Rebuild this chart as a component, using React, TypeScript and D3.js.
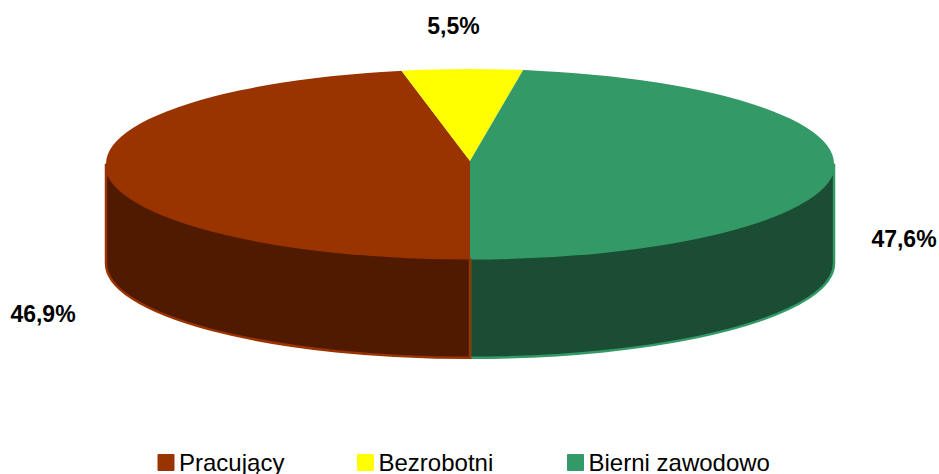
import * as d3 from 'd3';

const categories = ['Pracujący', 'Bezrobotni', 'Bierni zawodowo'];
const values = [46.9, 5.5, 47.6];
const valueLabels = ['46,9%', '5,5%', '47,6%'];
const topColors = ['#993300', '#ffff00', '#339966'];
const wallColors = ['#4f1a00', '#808000', '#1a4d33'];

const width = 939;
const height = 474;
const cx = 470;
const cy = 163.7;
const apexY = 161; // slices meet a bit above the ellipse centre in the reference
const rx = 364;
const ry = 94.6;
const depth = 99.5;

const labelPos = [
    { x: 43, y: 322 },
    { x: 453.5, y: 34 },
    { x: 904, y: 247 },
];
const legendX = [157.5, 357, 567];

// slices start at the bottom of the pie and run clockwise
const pie = d3.pie<number>().sort(null).startAngle(Math.PI).endAngle(3 * Math.PI);
const arcs = pie(values);
// oversized, the ellipse clip trims it
const arcGen = d3.arc<d3.PieArcDatum<number>>().innerRadius(0).outerRadius(rx * 1.2);

const px = (a: number) => cx + rx * Math.sin(a);
const py = (a: number) => cy - ry * Math.cos(a);

// side wall of a slice, only the part on the front half of the ellipse
function wallPath(a0: number, a1: number) {
    const from = Math.max(a0 > 2 * Math.PI ? a0 - 2 * Math.PI : a0, Math.PI / 2);
    const to = Math.min(a1 > 2 * Math.PI && a0 > 2 * Math.PI ? a1 - 2 * Math.PI : a1, 1.5 * Math.PI);
    if (to <= from) return '';
    return `M${px(from)},${py(from)}A${rx},${ry} 0 0 1 ${px(to)},${py(to)}`
        + `L${px(to)},${py(to) + depth}A${rx},${ry} 0 0 0 ${px(from)},${py(from) + depth}Z`;
}

export default function App() {
    // green wall first so the brown edge sits on top at the seam
    const wallOrder = [2, 0];
    return (
        <svg
            width={width}
            height={height}
            style={{ position: 'fixed', left: 0, top: 0, background: '#fff' }}
            fontFamily="'Liberation Sans', Arial, sans-serif"
        >
            <defs>
                <clipPath id="topFace">
                    <ellipse cx={cx} cy={cy} rx={rx} ry={ry} />
                </clipPath>
            </defs>
            {/* walls */}
            {wallOrder.map(i => (
                <path
                    key={i}
                    d={wallPath(arcs[i].startAngle, arcs[i].endAngle)}
                    fill={wallColors[i]}
                    stroke={topColors[i]}
                    strokeWidth={2.5}
                />
            ))}
            {/* top face */}
            <g clipPath="url(#topFace)">
                <g transform={`translate(${cx},${apexY}) scale(1,${ry / rx})`}>
                    {arcs.map((d, i) => (
                        <path key={i} d={arcGen(d) || ''} fill={topColors[i]} />
                    ))}
                </g>
            </g>
            {/* value labels */}
            {valueLabels.map((t, i) => (
                <text
                    key={t}
                    x={labelPos[i].x}
                    y={labelPos[i].y}
                    textAnchor="middle"
                    fontSize={23}
                    fontWeight="bold"
                    fill="#000"
                >
                    {t}
                </text>
            ))}
            {/* legend */}
            {categories.map((c, i) => (
                <g key={c} transform={`translate(${legendX[i]},454)`}>
                    <rect width={17} height={17} rx={1} fill={topColors[i]} />
                    <text x={21.5} y={16.8} fontSize={24} fill="#000">
                        {c}
                    </text>
                </g>
            ))}
        </svg>
    );
}
